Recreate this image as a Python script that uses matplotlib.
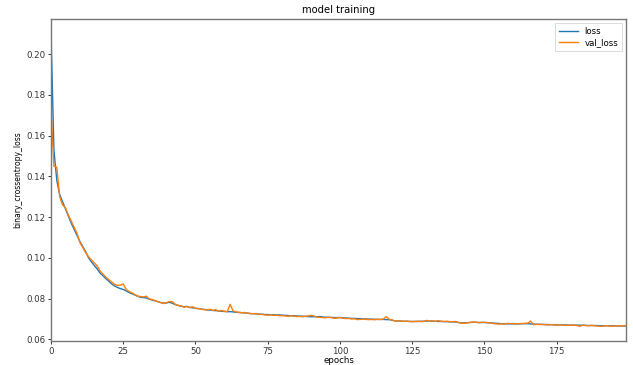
import matplotlib
matplotlib.use("Agg")
import matplotlib.pyplot as plt

# training history
loss = [0.2100, 0.1530, 0.1380, 0.1310, 0.1275, 0.1240, 0.1205, 0.1170, 0.1140, 0.1110,
        0.1080, 0.1055, 0.1030, 0.1000, 0.0980, 0.0962, 0.0945, 0.0925, 0.0912, 0.0898,
        0.0885, 0.0872, 0.0862, 0.0855, 0.0849, 0.0845, 0.0838, 0.0830, 0.0824, 0.0818,
        0.0812, 0.0806, 0.0805, 0.0803, 0.0797, 0.0793, 0.0789, 0.0785, 0.0781, 0.0778,
        0.0779, 0.0782, 0.0777, 0.0771, 0.0767, 0.0763, 0.0760, 0.0762, 0.0757, 0.0755,
        0.0753, 0.0751, 0.0749, 0.0747, 0.0745, 0.0744, 0.0742, 0.0741, 0.0740, 0.0738,
        0.0737, 0.0736, 0.0736, 0.0735, 0.0733, 0.0732, 0.0731, 0.0730, 0.0729, 0.0727,
        0.0726, 0.0725, 0.0724, 0.0723, 0.0722, 0.0722, 0.0721, 0.0721, 0.0720, 0.0720,
        0.0719, 0.0718, 0.0717, 0.0716, 0.0716, 0.0715, 0.0714, 0.0714, 0.0713, 0.0712,
        0.0711, 0.0711, 0.0711, 0.0712, 0.0710, 0.0709, 0.0708, 0.0708, 0.0707, 0.0707,
        0.0707, 0.0706, 0.0705, 0.0704, 0.0703, 0.0703, 0.0702, 0.0702, 0.0701, 0.0700,
        0.0700, 0.0699, 0.0699, 0.0698, 0.0698, 0.0698, 0.0697, 0.0697, 0.0694, 0.0691,
        0.0690, 0.0690, 0.0689, 0.0689, 0.0688, 0.0688, 0.0688, 0.0688, 0.0689, 0.0689,
        0.0690, 0.0690, 0.0689, 0.0689, 0.0688, 0.0688, 0.0687, 0.0687, 0.0686, 0.0686,
        0.0685, 0.0683, 0.0681, 0.0681, 0.0682, 0.0683, 0.0684, 0.0684, 0.0683, 0.0683,
        0.0683, 0.0682, 0.0681, 0.0680, 0.0679, 0.0678, 0.0677, 0.0677, 0.0676, 0.0676,
        0.0676, 0.0676, 0.0676, 0.0677, 0.0677, 0.0677, 0.0676, 0.0675, 0.0674, 0.0674,
        0.0674, 0.0673, 0.0673, 0.0672, 0.0672, 0.0672, 0.0671, 0.0671, 0.0671, 0.0670,
        0.0670, 0.0670, 0.0670, 0.0670, 0.0669, 0.0669, 0.0668, 0.0668, 0.0668, 0.0668,
        0.0667, 0.0667, 0.0667, 0.0667, 0.0666, 0.0666, 0.0666, 0.0666, 0.0666, 0.0666]

val_loss = [0.1720, 0.1450, 0.1445, 0.1300, 0.1260, 0.1245, 0.1210, 0.1180, 0.1150, 0.1120,
            0.1075, 0.1050, 0.1025, 0.1005, 0.0990, 0.0975, 0.0960, 0.0935, 0.0920, 0.0905,
            0.0893, 0.0882, 0.0870, 0.0865, 0.0866, 0.0872, 0.0845, 0.0835, 0.0828, 0.0820,
            0.0812, 0.0810, 0.0808, 0.0812, 0.0798, 0.0796, 0.0790, 0.0785, 0.0780, 0.0776,
            0.0780, 0.0786, 0.0785, 0.0772, 0.0766, 0.0765, 0.0758, 0.0761, 0.0756, 0.0760,
            0.0752, 0.0751, 0.0748, 0.0746, 0.0744, 0.0748, 0.0742, 0.0746, 0.0738, 0.0742,
            0.0738, 0.0736, 0.0772, 0.0740, 0.0735, 0.0733, 0.0731, 0.0732, 0.0728, 0.0726,
            0.0726, 0.0727, 0.0722, 0.0724, 0.0720, 0.0719, 0.0720, 0.0718, 0.0719, 0.0716,
            0.0716, 0.0715, 0.0713, 0.0716, 0.0714, 0.0712, 0.0713, 0.0711, 0.0713, 0.0715,
            0.0718, 0.0715, 0.0709, 0.0708, 0.0707, 0.0706, 0.0709, 0.0707, 0.0703, 0.0705,
            0.0708, 0.0704, 0.0702, 0.0703, 0.0700, 0.0701, 0.0697, 0.0698, 0.0700, 0.0698,
            0.0697, 0.0698, 0.0696, 0.0699, 0.0697, 0.0700, 0.0712, 0.0699, 0.0696, 0.0690,
            0.0690, 0.0691, 0.0688, 0.0690, 0.0688, 0.0687, 0.0688, 0.0689, 0.0687, 0.0688,
            0.0693, 0.0690, 0.0691, 0.0689, 0.0692, 0.0689, 0.0688, 0.0689, 0.0687, 0.0687,
            0.0688, 0.0682, 0.0680, 0.0679, 0.0681, 0.0683, 0.0685, 0.0684, 0.0682, 0.0683,
            0.0684, 0.0682, 0.0680, 0.0678, 0.0676, 0.0675, 0.0676, 0.0675, 0.0679, 0.0677,
            0.0678, 0.0676, 0.0677, 0.0678, 0.0679, 0.0680, 0.0690, 0.0672, 0.0674, 0.0673,
            0.0673, 0.0672, 0.0671, 0.0673, 0.0671, 0.0670, 0.0672, 0.0670, 0.0669, 0.0670,
            0.0669, 0.0670, 0.0668, 0.0664, 0.0670, 0.0668, 0.0667, 0.0669, 0.0667, 0.0666,
            0.0664, 0.0665, 0.0667, 0.0666, 0.0664, 0.0665, 0.0666, 0.0667, 0.0666, 0.0668]

fs = 6.2
fig = plt.figure(figsize=(6.33, 3.65), dpi=100)
ax = fig.add_axes([0.0806, 0.0658, 0.9084, 0.8822])

ax.plot(loss, color='#1f77b4', lw=1.0, label='loss')
ax.plot(val_loss, color='#ff7f0e', lw=1.0, label='val_loss')

ax.set_xlim(0, len(loss) - 1)
ax.set_title('model training', fontsize=7.2, pad=4)
ax.set_xlabel('epochs', fontsize=fs, labelpad=0)
ax.set_ylabel('binary_crossentropy_loss', fontsize=fs - 0.7, labelpad=3)
ax.tick_params(labelsize=fs, length=2.5, width=0.7, pad=1.5, colors='#333333')
for s in ax.spines.values():
    s.set_color('#777777')
    s.set_linewidth(1.0)

leg = ax.legend(loc='upper right', fontsize=fs, handlelength=2.2, borderpad=0.4,
                labelspacing=0.3, fancybox=False)
leg.get_frame().set_linewidth(0.6)

fig.savefig('out.png', dpi=100)
